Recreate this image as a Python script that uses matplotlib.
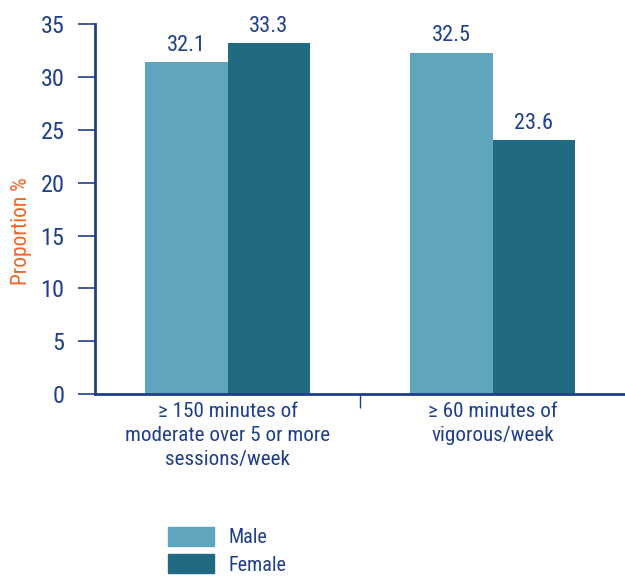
import matplotlib.pyplot as plt
import matplotlib.font_manager as fm
from matplotlib.patches import Patch

# data
categories = ['\u2265 150 minutes of\nmoderate over 5 or more\nsessions/week',
              '\u2265 60 minutes of\nvigorous/week']
male_heights = [31.4, 32.3]
female_heights = [33.2, 24.0]
male_labels = ['32.1', '32.5']
female_labels = ['33.3', '23.6']

names = {f.name for f in fm.fontManager.ttflist}
family = 'DejaVu Sans'
for cand in ['Liberation Sans Narrow', 'Roboto Condensed', 'Open Sans Condensed']:
    if cand in names:
        family = cand
        break
plt.rcParams['font.family'] = [family, 'DejaVu Sans']
plt.rcParams['font.stretch'] = 'condensed'

NAVY = '#1f3f8a'
MALE = '#5ea5bd'
FEMALE = '#216b82'

fig = plt.figure(figsize=(6.25, 5.76), dpi=100)
ax = fig.add_axes([0.152, 0.316, 0.848, 0.642])

x = range(len(categories))
w = 0.31
male_bars = ax.bar([i - w / 2 for i in x], male_heights, w, color=MALE)
female_bars = ax.bar([i + w / 2 for i in x], female_heights, w, color=FEMALE)

for bars, labels in [(male_bars, male_labels), (female_bars, female_labels)]:
    for b, lab in zip(bars, labels):
        ax.text(b.get_x() + b.get_width() / 2, b.get_height() + 0.6, lab,
                ha='center', va='bottom', fontsize=16, color=NAVY)

ax.set_xlim(-0.5, 1.5)
ax.set_ylim(0, 35)
ax.set_yticks(range(0, 36, 5))
ax.tick_params(axis='y', colors=NAVY, labelsize=17.5, length=12, width=1.2, pad=10)

ax.set_xticks([0.5], minor=True)
ax.set_xticks(list(x))
ax.set_xticklabels(categories, fontsize=15.2, color=NAVY, linespacing=1.32)
ax.tick_params(axis='x', which='major', length=0, pad=6)
ax.tick_params(axis='x', which='minor', length=10, width=1, color=NAVY)

for s in ['top', 'right']:
    ax.spines[s].set_visible(False)
for s in ['left', 'bottom']:
    ax.spines[s].set_color(NAVY)
    ax.spines[s].set_linewidth(2)

ax.set_ylabel('Proportion %', color='#f26522', fontsize=15.5)
ax.yaxis.set_label_coords(-0.118, 0.44)

handles = [Patch(color=MALE, label='Male'), Patch(color=FEMALE, label='Female')]
leg = fig.legend(handles=handles, loc='upper left', bbox_to_anchor=(0.268, 0.085),
                 frameon=False, fontsize=14.5, handlelength=2.3, handleheight=1.05,
                 labelspacing=0.35, handletextpad=0.75, borderpad=0, borderaxespad=0)
for t in leg.get_texts():
    t.set_color(NAVY)

fig.savefig('out.png', dpi=100)
